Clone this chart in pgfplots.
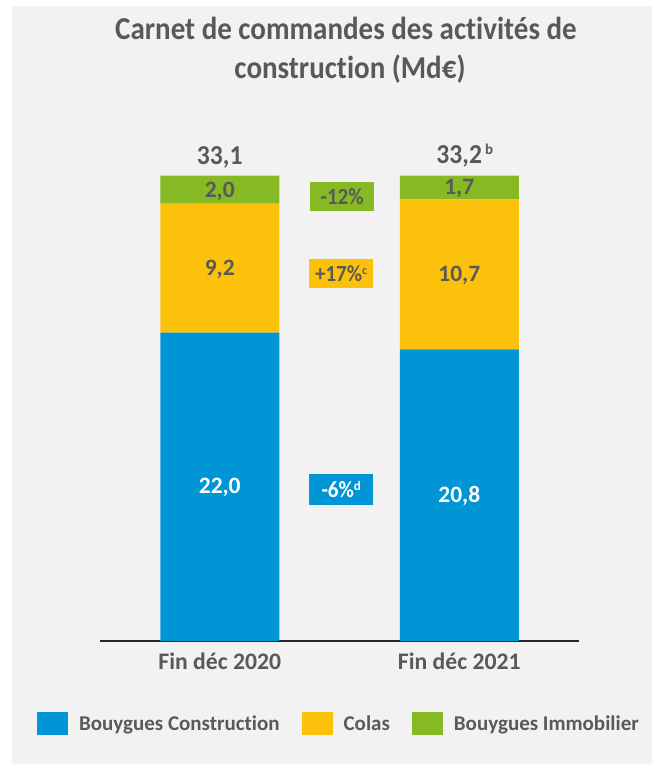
\documentclass[border=0pt]{standalone}
\usepackage{pgfplots}
\pgfplotsset{compat=1.18}
\usepackage{fontspec}
\setmainfont{Carlito}[Ligatures=NoCommon]

\definecolor{bcblue}{RGB}{0,150,214}
\definecolor{colasyel}{RGB}{252,193,10}
\definecolor{bigreen}{RGB}{134,185,35}
\definecolor{txtgray}{RGB}{89,89,89}
\definecolor{bggray}{RGB}{242,242,242}

\newcommand{\fs}[1]{\fontsize{#1}{#1}\selectfont\bfseries}
\newcommand{\st}[2]{\scalebox{1}[#1]{#2}}

\begin{document}
\begin{tikzpicture}[x=1pt,y=1pt,
    lbl/.style={anchor=base, yshift=-7pt, font=\fs{23.5}},
    badge/.style={minimum width=64pt, minimum height=29pt, inner sep=0pt, font=\fs{21}}]
\useasboundingbox (0,0) rectangle (652,765);
\fill[white] (0,0) rectangle (652,765);
\fill[bggray] (12,1) rectangle (652,759);

% title
\node[anchor=base,text=txtgray,font=\fs{29}] at (346,725) {\st{1.1}{Carnet de commandes des activités de}};
\node[anchor=base,text=txtgray,font=\fs{29}] at (350,686) {\st{1.1}{construction (Md€)}};

\begin{axis}[
    at={(100pt,124pt)}, anchor=south west,
    scale only axis, width=479pt, height=490.7pt,
    xmin=-0.5, xmax=1.5, ymin=0, ymax=35,
    clip=false,
    ybar stacked, bar width=119pt,
    axis y line=none, axis x line=bottom,
    x axis line style={-, black!85, line width=1.8pt},
    xtick={0,1}, xticklabels={Fin déc 2020, Fin déc 2021},
    major tick length=0pt,
    xticklabel style={font=\fs{23.7}, text=txtgray, anchor=base, yshift=-28pt},
    sq legend/.style={legend image code/.code={\fill[##1] (0pt,-11.5pt) rectangle (31pt,11.5pt);}},
    legend columns=-1,
    legend style={at={(axis description cs:-0.1315,-0.1681)}, anchor=west,
        draw=none, fill=none, inner sep=0pt, outer sep=0pt,
        font=\fs{21}, text=txtgray,
        nodes={inner sep=0pt, anchor=west},
        /tikz/every odd column/.append style={column sep=11pt},
        /tikz/every even column/.append style={column sep=22pt}},
]
\addplot[fill=bcblue, draw=none, sq legend] coordinates {(0,22.0) (1,20.8)};
\addplot[fill=colasyel, draw=none, sq legend] coordinates {(0,9.2) (1,10.7)};
\addplot[fill=bigreen, draw=none, sq legend] coordinates {(0,2.0) (1,1.7)};
\legend{Bouygues Construction, Colas, Bouygues Immobilier}

% label anchors: segment middles, bar tops, badges
\coordinate (a1) at (axis cs:0,11.0);
\coordinate (a2) at (axis cs:0,26.6);
\coordinate (a3) at (axis cs:0,32.1);
\coordinate (b1) at (axis cs:1,10.4);
\coordinate (b2) at (axis cs:1,26.15);
\coordinate (b3) at (axis cs:1,32.35);
\coordinate (ta) at (axis cs:0,33.1);
\coordinate (tb) at (axis cs:1,33.2);
\coordinate (v3) at (axis cs:0.511,31.69);
\coordinate (v2) at (axis cs:0.507,26.23);
\coordinate (v1) at (axis cs:0.507,10.82);
\end{axis}

% segment values
\node[lbl, text=white] at (a1) {22,0};
\node[lbl, text=txtgray] at (a2) {9,2};
\node[lbl, text=txtgray] at (a3) {2,0};
\node[lbl, text=white] at (b1) {20,8};
\node[lbl, text=txtgray] at (b2) {10,7};
\node[lbl, text=txtgray] at (b3) {1,7};

% totals
\node[anchor=base, text=txtgray, font=\fs{25.6}, yshift=12.5pt] at (ta) {\st{1.07}{33,1}};
\node[anchor=base, text=txtgray, font=\fs{25.6}, yshift=12.5pt] at (tb)
    {\st{1.07}{33,2}\rlap{\hspace{3pt}\raisebox{8.5pt}{\fs{15}b}}};

% variation badges
\node[badge, fill=bigreen, text=txtgray] at (v3) {\st{1.1}{-12\%}};
\node[badge, fill=colasyel, text=txtgray] at (v2)
    {\st{1.1}{+17\%}\raisebox{7pt}{\fs{12}c}};
\node[badge, fill=bcblue, text=white, minimum height=31pt] at (v1)
    {\st{1.1}{-6\%}\raisebox{7pt}{\fs{13}d}};
\end{tikzpicture}
\end{document}
